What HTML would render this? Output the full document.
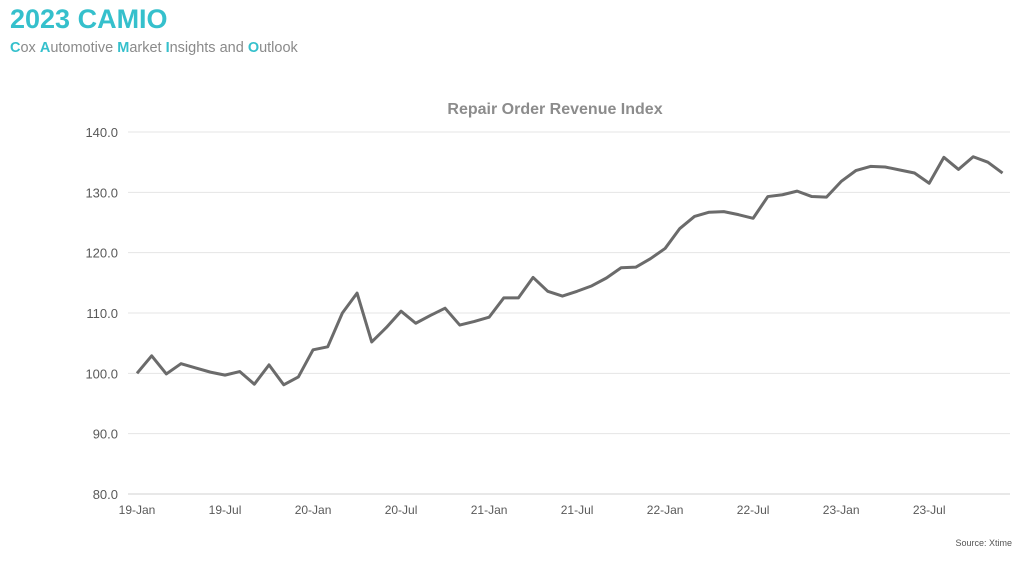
<!DOCTYPE html>
<html><head><meta charset="utf-8"><style>
body{margin:0;width:1024px;height:562px;background:#fff;font-family:"Liberation Sans",Arial,sans-serif;overflow:hidden;position:relative}
.t{position:absolute;left:10px;top:4px;font-size:27px;font-weight:bold;color:#35c0cc}
.s{position:absolute;left:10px;top:40px;font-size:14.5px;color:#8a8a8a}
.s b{color:#35c0cc;font-weight:bold}
.src{position:absolute;right:12px;top:538px;font-size:9px;color:#555}
</style></head><body>
<div class="t">2023 CAMIO</div>
<div class="s"><b>C</b>ox <b>A</b>utomotive <b>M</b>arket <b>I</b>nsights and <b>O</b>utlook</div>
<svg id="c" width="1024" height="562" style="position:absolute;left:0;top:0"></svg>
<div class="src">Source: Xtime</div>
<script>
const values=[100,102.9,99.9,101.6,100.9,100.2,99.7,100.3,98.2,101.4,98.1,99.4,
103.9,104.4,110.0,113.3,105.2,107.6,110.3,108.3,109.6,110.8,108.0,108.6,
109.3,112.5,112.5,115.9,113.6,112.8,113.6,114.5,115.8,117.5,117.6,119.0,
120.7,124.0,126.0,126.7,126.8,126.3,125.7,129.3,129.6,130.2,129.3,129.2,
131.8,133.6,134.3,134.2,133.7,133.2,131.5,135.8,133.8,135.9,135.0,133.2];
const yTicks=[80,90,100,110,120,130,140];
const xLabels=["19-Jan","19-Jul","20-Jan","20-Jul","21-Jan","21-Jul","22-Jan","22-Jul","23-Jan","23-Jul"];
const NS="http://www.w3.org/2000/svg",svg=document.getElementById('c');
const x=i=>137+i*14.67, y=v=>494-(v-80)*(362/60);
function mk(t,a){const e=document.createElementNS(NS,t);for(const k in a)e.setAttribute(k,a[k]);svg.appendChild(e);return e;}
let tt=mk('text',{x:555,y:114,'text-anchor':'middle','font-size':16,'font-weight':'bold',fill:'#8c8c8c'});


tt.textContent='Repair Order Revenue Index';
yTicks.forEach(v=>{
 const g=mk('line',{x1:128,x2:1010,y1:y(v),y2:y(v),stroke:v==80?'#d0d0d0':'#e4e4e4','stroke-width':1});
 
 
 const l=mk('text',{x:118,y:y(v)+5,'text-anchor':'end','font-size':13,fill:'#595959'});
 
 
 l.textContent=v.toFixed(1);
});
xLabels.forEach((s,k)=>{
 const l=mk('text',{x:x(k*6),y:514,'text-anchor':'middle','font-size':12,fill:'#595959'});
 
 
 l.textContent=s;
});
const p=mk('polyline',{points:values.map((v,i)=>x(i)+','+y(v)).join(' '),fill:'none',stroke:'#6b6b6b','stroke-width':3,'stroke-linejoin':'round'});


</script>
</body></html>
